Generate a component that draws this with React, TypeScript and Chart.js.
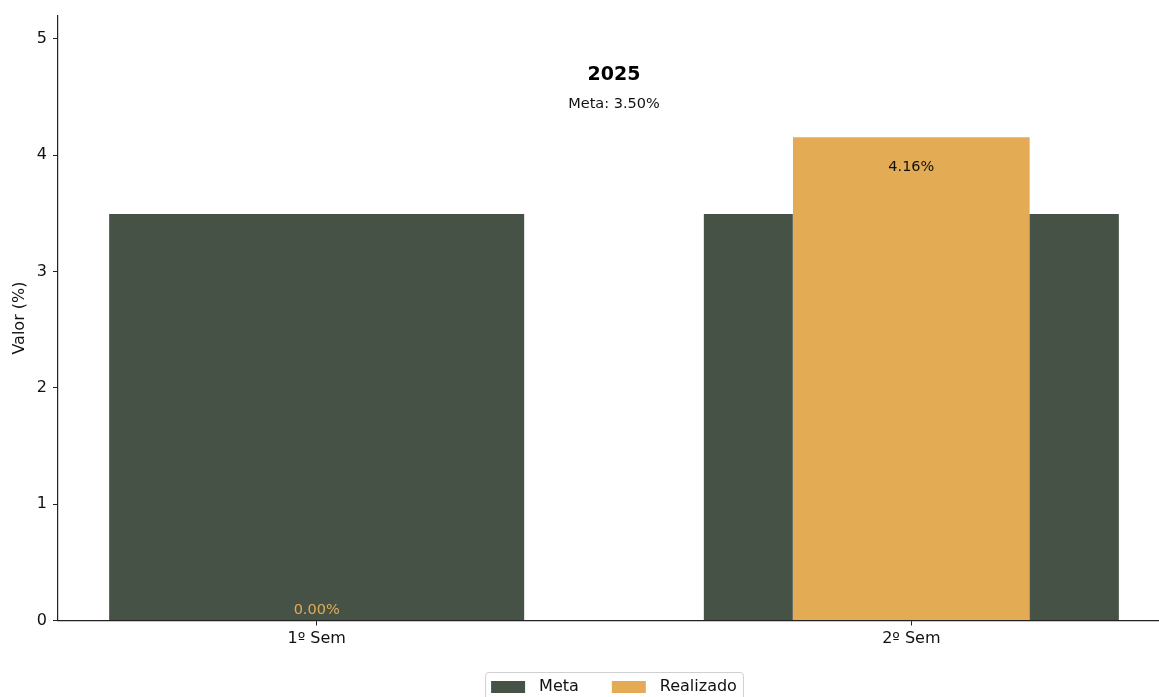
import React, { useEffect, useRef } from "react";
import { Chart, registerables } from "chart.js";

Chart.register(...registerables);

const categories = ["1º Sem", "2º Sem"];
const metaValues = [3.5, 3.5];
const realizadoValues = [0.0, 4.16];
const seriesNames = ["Meta", "Realizado"];
const chartTitle = "2025";
const metaLabel = "Meta: 3.50%";
const yTicks = [0, 1, 2, 3, 4, 5];

const META_COLOR = "#475247";
const REAL_COLOR = "#E4AB55";
const FONT = "'DejaVu Sans', sans-serif";

const overlayPlugin = {
  id: "overlay",
  afterDraw(chart: any) {
    const { ctx, chartArea, scales } = chart;
    const cx = (chartArea.left + chartArea.right) / 2;
    const h = chartArea.bottom - chartArea.top;
    ctx.save();
    ctx.textAlign = "center";
    ctx.textBaseline = "middle";
    ctx.fillStyle = "#000";
    ctx.font = `bold 19px ${FONT}`;
    ctx.fillText(chartTitle, cx, chartArea.bottom - 0.901 * h);
    ctx.font = `14.5px ${FONT}`;
    ctx.fillStyle = "#111";
    ctx.fillText(metaLabel, cx, chartArea.bottom - 0.853 * h);

    // data labels for Realizado
    const meta = chart.getDatasetMeta(0);
    ctx.font = `14.5px ${FONT}`;
    meta.data.forEach((bar: any, i: number) => {
      const v = realizadoValues[i];
      const x = scales.x.getPixelForValue(i);
      const txt = v.toFixed(2) + "%";
      if (v > 0) {
        ctx.fillStyle = "#111";
        ctx.fillText(txt, x, scales.y.getPixelForValue(v) + 31);
      } else {
        ctx.fillStyle = REAL_COLOR;
        ctx.fillText(txt, x, scales.y.getPixelForValue(0) - 10);
      }
    });

    // legend
    ctx.font = `16px ${FONT}`;
    const sw = 34, sh = 12, gapT = 14, gapItem = 33;
    const names = seriesNames;
    const colors = [META_COLOR, REAL_COLOR];
    const widths = names.map((n) => ctx.measureText(n).width);
    const total = widths.reduce((a, w) => a + sw + gapT + w, 0) + gapItem * (names.length - 1);
    const padX = 6;
    const boxL = cx - total / 2 - padX;
    const boxT = 672;
    ctx.strokeStyle = "#d0d0d0";
    ctx.lineWidth = 1;
    ctx.fillStyle = "#fff";
    ctx.beginPath();
    ctx.roundRect(boxL + 0.5, boxT + 0.5, total + 2 * padX, 40, 3);
    ctx.fill();
    ctx.stroke();
    let x = boxL + padX;
    const ty = 687;
    names.forEach((n, i) => {
      ctx.fillStyle = colors[i];
      ctx.fillRect(x, ty - sh / 2, sw, sh);
      ctx.fillStyle = "#111";
      ctx.textAlign = "left";
      ctx.fillText(n, x + sw + gapT, ty);
      x += sw + gapT + widths[i] + gapItem;
    });
    ctx.restore();
  },
};

export default function App() {
  const ref = useRef<HTMLCanvasElement>(null);
  useEffect(() => {
    if (!ref.current) return;
    const chart = new Chart(ref.current, {
      type: "bar",
      data: {
        datasets: [
          {
            label: seriesNames[1],
            data: realizadoValues.map((y, i) => ({ x: i, y })),
            backgroundColor: REAL_COLOR,
            borderColor: "rgba(255,255,255,0.5)",
            borderWidth: 0.6,
            barPercentage: 0.4,
            categoryPercentage: 1,
            grouped: false,
            order: 0,
          } as any,
          {
            label: seriesNames[0],
            data: metaValues.map((y, i) => ({ x: i, y })),
            backgroundColor: META_COLOR,
            borderColor: "rgba(255,255,255,0.5)",
            borderWidth: 0.6,
            barPercentage: 0.7,
            categoryPercentage: 1,
            grouped: false,
            order: 1,
          } as any,
        ],
      },
      plugins: [overlayPlugin],
      options: {
        animation: false,
        responsive: false,
        layout: { padding: { top: 13, right: 0, left: 0, bottom: 0 } },
        plugins: { legend: { display: false }, tooltip: { enabled: false } },
        scales: {
          x: {
            type: "linear",
            min: -0.435,
            max: 1.435,
            offset: false,
            afterBuildTicks: (s: any) => {
              s.ticks = categories.map((_, i) => ({ value: i }));
            },
            afterFit: (s: any) => {
              s.height = 76.5;
            },
            ticks: {
              callback: (v: any) => categories[v] ?? "",
              font: { family: FONT, size: 16 },
              color: "#111",
              padding: 4,
              maxRotation: 0,
            },
            grid: { display: true, offset: false, drawOnChartArea: false, drawTicks: true, tickLength: 5, color: "#222" },
            border: { display: true, color: "#222", width: 1.2 },
          },
          y: {
            type: "linear",
            min: 0,
            max: 5.2,
            afterBuildTicks: (s: any) => {
              s.ticks = yTicks.map((v) => ({ value: v }));
            },
            afterFit: (s: any) => {
              s.width = 58;
            },
            ticks: {
              font: { family: FONT, size: 16 },
              color: "#111",
              padding: 6,
            },
            title: {
              display: true,
              text: "Valor (%)",
              font: { family: FONT, size: 16 },
              color: "#111",
              padding: { top: 10, bottom: 0 },
            },
            grid: { display: true, drawOnChartArea: false, drawTicks: true, tickLength: 5, color: "#222" },
            border: { display: true, color: "#222", width: 1.2 },
          },
        },
      },
    });
    return () => chart.destroy();
  }, []);
  return (
    <div style={{ position: "fixed", left: 0, top: 0, width: 1159, height: 697, overflow: "hidden", background: "#fff" }}>
      <canvas ref={ref} width={1170} height={697} style={{ width: 1170, height: 697, display: "block" }} />
    </div>
  );
}
